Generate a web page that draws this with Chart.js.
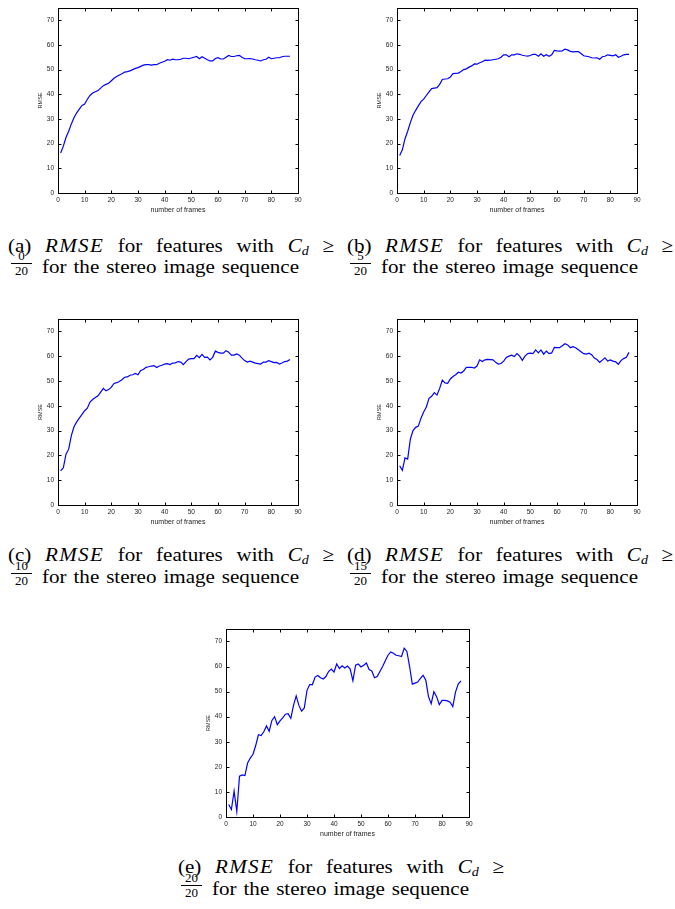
<!DOCTYPE html>
<html><head><meta charset="utf-8">
<script src="https://cdn.jsdelivr.net/npm/chart.js@4"></script>
<style>
html,body{margin:0;padding:0;background:#fff;width:675px;height:909px;overflow:hidden;position:relative;}
canvas{position:absolute;}
.ln{position:absolute;font-family:"Liberation Serif","Times New Roman",Times,serif;font-size:19.5px;line-height:19.5px;color:#000;text-align:justify;text-align-last:justify;transform-origin:0 0;white-space:normal;}
.ln i.m{letter-spacing:1.2px;}
.ln sub{font-size:13px;vertical-align:-3px;line-height:0;}
.fr{position:absolute;font-family:"Liberation Serif","Times New Roman",Times,serif;font-size:13px;line-height:12px;text-align:center;color:#000;}
.bar{position:absolute;height:1px;background:#000;}
</style></head>
<body>
<canvas id="ca"></canvas><canvas id="cb"></canvas><canvas id="cc"></canvas><canvas id="cd"></canvas><canvas id="ce"></canvas>
<script>
const frames = [1,2,3,4,5,6,7,8,9,10,11,12,13,14,15,16,17,18,19,20,21,22,23,24,25,26,27,28,29,30,31,32,33,34,35,36,37,38,39,40,41,42,43,44,45,46,47,48,49,50,51,52,53,54,55,56,57,58,59,60,61,62,63,64,65,66,67,68,69,70,71,72,73,74,75,76,77,78,79,80,81,82,83,84,85,86,87];

const rmseA = [16.2,19,22.5,25,28,30.5,32.5,34,35.5,36,
38,39.5,40.5,41,41.5,42.5,43.5,44,44.5,45.5,
46.5,47.2,47.8,48.3,49,49.2,49.5,50,50.5,50.8,
51.3,51.8,52,52,51.8,52,52,52.6,53,53.4,
54,53.8,54.2,54,54,54.2,54.6,54.6,54.4,54.7,
55,55.3,54.4,55.2,54.6,54,53.5,53.5,54.5,54.8,
54.3,54.3,55,55.7,55.3,55.3,55.6,55.8,55,54.4,
54.4,54.5,54.3,54,53.8,53.5,54,54.2,55,54.4,
54.6,54.8,54.8,55.2,55.4,55.4,55.4];

const rmseB = [15.2,17.5,22,25,28.5,31.5,33.5,35.3,37,38,
39.5,41,42.3,42.5,42.7,44,46,46.2,46.3,47,
48.4,48.5,48.6,49.2,50,50.3,51,51.5,52.3,52.2,
52.8,53.2,53.8,53.7,53.8,54,54.2,54.4,55,56,
56,55.2,56,56,56.4,56.2,55.8,55.6,55.5,55.7,
56.2,56.2,55.4,56.4,55.4,56,55.4,56,57.8,57.6,
57.5,57.6,58.3,58,57.4,57.2,57.3,57.3,56.5,55.6,
55.4,55.2,54.8,54.7,54.8,54.2,55.2,55.4,56,55.8,
55.6,56,55,55.4,56,56.2,56.2];

const rmseC = [13.8,15,20.5,22.5,28,31.5,33.5,35,36.5,38,
39,41.5,42.5,43.3,44,45.5,47,46,46.5,47.5,
49,49.3,49.8,50.5,51.5,51.6,52.3,52.5,53,52.5,
54.2,54.6,55.5,55.7,56,56.2,55.4,56,56.3,56.8,
57,56.6,57.2,57.3,57.8,57.6,56.6,57.8,58.8,59,
59,60.3,59.4,60.7,59.5,59.6,58.5,59.5,62,61.5,
61.2,61.2,62.2,61.6,60.4,60.4,60.9,60.4,59.2,58.2,
57.6,58,57.6,57.2,57,56.8,57.6,57.6,58.2,57.8,
57.4,57.5,56.8,57.2,57.8,58,58.6];

const rmseD = [15.8,14,19,18.5,26.5,30,31.3,31.8,35,37.5,
39.5,43,43.8,45.3,44.3,47,50.3,49.2,49,50.8,
51.8,52.5,53.5,53.2,54,55.5,55.5,55.5,55.2,56,
58.5,57.8,58.5,58.7,58.6,58.5,57.5,56.8,57,58,
59.5,60,60.4,59.8,61,60,58.3,60,61,61.2,
61,62.5,61.3,62.5,60.8,62,61,61.3,63.5,63.4,
63.4,64.2,65,64.5,63.4,63.8,63.4,62.6,61.8,61,
60.8,61.2,60.6,59.2,58.6,57.5,58.4,59.3,58,58.5,
58,57.7,56.7,58.2,59,59.5,61.5];

const rmseE = [5,3,10.3,2.2,16.3,16.8,16.5,21.5,23.5,25,
28.5,32.8,32.5,34,36.3,34.2,38.5,40,36.8,38.3,
39.5,41,41.2,39.3,44.5,48.3,44.5,42.2,43.5,50.5,
52.8,52.8,55.8,56.4,55.5,55,56,58,59,57.8,
61,59.2,60.3,59.4,60.2,59,54.3,60.5,61,59.8,
60.5,61.4,58.8,58.2,55.5,56,58,60,62.3,64.5,
65.8,65.3,64.5,64.3,64,67.3,66,60,53,53.4,
53.8,55.3,56.5,54.5,48,45.2,50,48,44.8,46.5,
46.5,46.3,45.8,44,49.8,53,54.3];

const xTitle = 'number of frames';
const yTitle = 'RMSE';
const xRange = [0, 90];
const yRange = [0, 75];
const tickStep = 10;

const captionLabels = ['(a)', '(b)', '(c)', '(d)', '(e)'];
const thresholdNum = ['0', '5', '10', '15', '20'];
const thresholdDen = '20';

const framePlugin = {
  id: 'frame',
  afterDatasetsDraw(chart) {
    const {ctx, chartArea: a, scales: {x, y}} = chart;
    ctx.save();
    ctx.strokeStyle = '#000';
    ctx.lineWidth = 1;
    const L = Math.round(a.left) + 0.5, R = Math.round(a.right) + 0.5;
    const T = Math.round(a.top) + 0.5, B = Math.round(a.bottom) + 0.5;
    ctx.strokeRect(L, T, R - L, B - T);
    ctx.beginPath();
    x.ticks.forEach((t, i) => {
      const px = Math.round(x.getPixelForTick(i)) + 0.5;
      ctx.moveTo(px, B); ctx.lineTo(px, B - 3);
      ctx.moveTo(px, T); ctx.lineTo(px, T + 3);
    });
    y.ticks.forEach((t, i) => {
      const py = Math.round(y.getPixelForTick(i)) + 0.5;
      ctx.moveTo(L, py); ctx.lineTo(L + 3, py);
      ctx.moveTo(R, py); ctx.lineTo(R - 3, py);
    });
    ctx.stroke();
    ctx.restore();
  }
};

function makeChart(id, box, values) {
  const yw = 28, padT = 4, padR = 8, xh = 21;
  const W = box.R - box.L, H = box.B - box.T;
  const cv = document.getElementById(id);
  cv.width = Math.round(W + yw + padR);
  cv.height = Math.round(H + padT + xh);
  cv.style.left = (box.L - yw) + 'px';
  cv.style.top = (box.T - padT) + 'px';
  const tickFont = {family: "'Liberation Sans', Arial, sans-serif", size: 6.5};
  new Chart(cv, {
    type: 'line',
    data: {
      datasets: [{
        data: frames.map((f, i) => ({x: f, y: values[i]})),
        borderColor: '#0000ff',
        borderWidth: 1.2,
        pointRadius: 0,
        tension: 0,
        fill: false
      }]
    },
    options: {
      responsive: false,
      animation: false,
      devicePixelRatio: 1,
      layout: {padding: {left: 0, top: padT, right: padR, bottom: 0}},
      plugins: {legend: {display: false}, tooltip: {enabled: false}},
      scales: {
        x: {
          type: 'linear', min: xRange[0], max: xRange[1],
          ticks: {stepSize: tickStep, includeBounds: false, padding: 3, font: tickFont, color: '#222', maxRotation: 0, autoSkip: false},
          grid: {display: false, drawTicks: false},
          border: {display: false},
          title: {display: true, text: xTitle, font: {family: "'Liberation Sans', Arial, sans-serif", size: 7}, color: '#222', padding: 0},
          afterFit(s) { s.height = xh; }
        },
        y: {
          type: 'linear', min: yRange[0], max: yRange[1],
          ticks: {stepSize: tickStep, includeBounds: false, padding: 4, font: tickFont, color: '#222', autoSkip: false},
          grid: {display: false, drawTicks: false},
          border: {display: false},
          title: {display: true, text: yTitle, font: {family: "'Liberation Sans', Arial, sans-serif", size: 5.5}, color: '#222', padding: {top: 7, bottom: 0}},
          afterFit(s) { s.width = yw; }
        }
      }
    },
    plugins: [framePlugin]
  });
}

makeChart('ca', {L: 58.3, R: 298.3, T: 4, B: 193.3}, rmseA);
makeChart('cb', {L: 396.7, R: 636.7, T: 4, B: 193.3}, rmseB);
makeChart('cc', {L: 58.3, R: 298.3, T: 315, B: 505}, rmseC);
makeChart('cd', {L: 396.7, R: 636.7, T: 315, B: 505}, rmseD);
makeChart('ce', {L: 226, R: 469.3, T: 625, B: 816.7}, rmseE);

// captions
const SX = 1.08;
const FS = 19.5;
function caption(k, x0, base1, base2) {
  const asc = 0.8375 * FS; // baseline offset within line box
  const l1 = document.createElement('div');
  l1.className = 'ln';
  l1.style.left = x0 + 'px';
  l1.style.top = (base1 - asc) + 'px';
  l1.style.width = (326 / SX) + 'px';
  l1.style.transform = 'scaleX(' + SX + ')';
  l1.innerHTML = captionLabels[k] + ' <i class="m">RMSE</i> for features with <i>C</i><sub><i>d</i></sub> \u2265';
  document.body.appendChild(l1);

  const l2 = document.createElement('div');
  l2.className = 'ln';
  l2.style.left = (x0 + 33.4) + 'px';
  l2.style.top = (base2 - asc) + 'px';
  l2.style.width = (257 / SX) + 'px';
  l2.style.transform = 'scaleX(' + SX + ')';
  l2.textContent = 'for the stereo image sequence';
  document.body.appendChild(l2);

  const fx = x0 + 2.7, fw = 21;
  const barY = base2 - 10;
  const bar = document.createElement('div');
  bar.className = 'bar';
  bar.style.left = fx + 'px'; bar.style.width = fw + 'px'; bar.style.top = barY + 'px';
  document.body.appendChild(bar);
  const num = document.createElement('div');
  num.className = 'fr';
  num.style.left = fx + 'px'; num.style.width = fw + 'px';
  num.style.top = (barY - 13) + 'px';
  num.textContent = thresholdNum[k];
  document.body.appendChild(num);
  const den = document.createElement('div');
  den.className = 'fr';
  den.style.left = fx + 'px'; den.style.width = fw + 'px';
  den.style.top = (barY + 1.5) + 'px';
  den.textContent = thresholdDen;
  document.body.appendChild(den);
}
caption(0, 8.3, 252, 273.3);
caption(1, 347.3, 252, 273.3);
caption(2, 8.3, 561.7, 583.3);
caption(3, 347.3, 561.7, 583.3);
caption(4, 178.3, 873.3, 895);
</script>
</body></html>
